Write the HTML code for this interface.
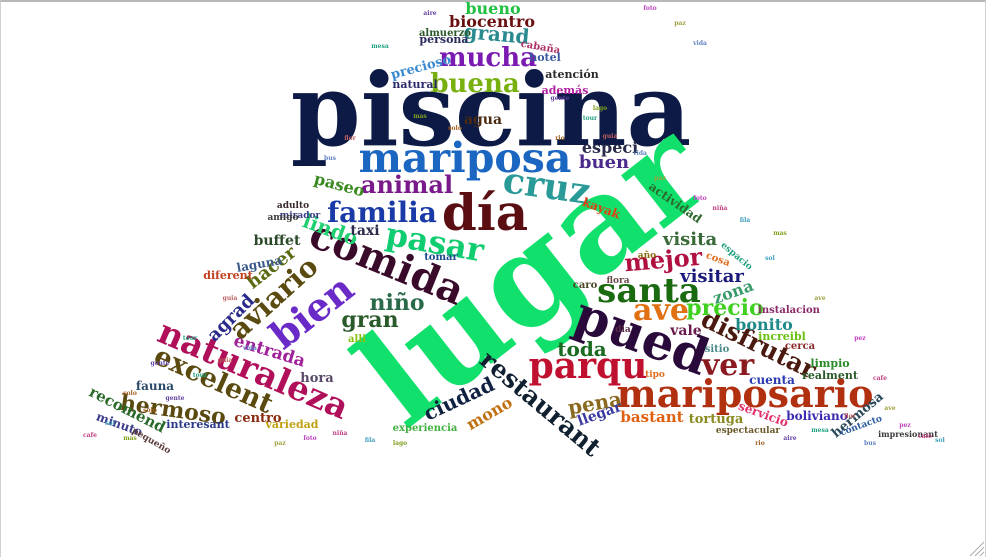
<!DOCTYPE html>
<html><head><meta charset="utf-8"><style>
html,body{margin:0;padding:0;background:#fff;width:987px;height:558px;overflow:hidden}
#frame{position:absolute;left:0;top:0;width:986px;height:557px;border-top:2px solid #b8b8b8;border-left:1px solid #d0d0d0;border-right:1px solid #d0d0d0;box-sizing:border-box}
svg{position:absolute;left:0;top:0}
text{font-family:"DejaVu Serif","Liberation Serif",serif;font-weight:bold}
</style></head><body>
<div id="frame"></div>
<svg width="987" height="558">
<g id="words"></g>
<path d="M970 556 L984 542 M975 556 L984 547 M980 556 L984 552" stroke="#aaa"/>
</svg>
<script>
const words=["piscina","lugar","mariposa","día","cruz","familia","animal","pasar","comida","bien","aviario","naturaleza","excelent","hermoso","pued","santa","mariposario","parqu","restaurant","ver","disfrutar","mucha","buena","bueno","biocentro","grand","ave","mejor","precio","niño","gran","lindo","ciudad","toda","pena","bonito","visitar","visita","zona","mono","buen","especi","paseo","agua","agrad","hacer","entrada","buffet","hora","recomend","centro","fauna","bastant","tortuga","boliviano","hermosa","llegar","vale","increibl","cuenta","realment","servicio","interesant","variedad","experiencia","minuto","contacto","espectacular","impresionant","laguna","taxi","diferent","persona","almuerzo","cabaña","hotel","atención","natural","precioso","además","actividad","kayak","alli","tomar","cerca","limpio","sitio","instalacion","pequeño","mirador","amigo","adulto","espacio","cosa","dia","flora","año","caro","tipo"];
const sizes=[100,132,41,50,36,28,24,32,40,38,28,34,27,22,50,34,38,36,25,30,25,26,26,16,16,20,30,24,22,22,22,20,20,20,20,16,18,18,16,16,18,16,16,14,18,18,17,14,13,15,13,12,15,13,12,13,14,14,11,12,11,12,11,11,10,12,9,9,8,12,14,11,11,10,10,11,11,11,13,11,12,12,10,10,10,11,10,10,9,9,9,9,9,10,9,9,9,10,9];
const colors=["#0c1a45","#12e06c","#1a66c0","#5a0e12","#2a9a98","#1a3aa8","#7a1a8a","#10cc70","#3a0a2a","#6a2ac8","#5a4a10","#b0105a","#5a4a10","#5a4a10","#2a0a3a","#1a6a10","#b03010","#c01030","#102030","#8a1a20","#4a1a10","#7a1ab0","#78b010","#20c040","#6a1010","#2a8a90","#e07010","#b01040","#40d020","#2a6a4a","#2a5a2a","#20d070","#102040","#1a6a20","#8a6a20","#208a8a","#1a1a7a","#3a6a3a","#3a9a6a","#c07010","#4a2a8a","#2a2a4a","#3a8a20","#4a2a10","#2a2a8a","#5a6a10","#a0209a","#2a4a2a","#5a4a6a","#2a6a2a","#8a2a10","#2a4a6a","#e06010","#8a8a20","#3a2ab0","#2a4a5a","#3a3aa0","#6a1a4a","#6ac010","#2a3ab0","#2a5a2a","#e0306a","#2a3a8a","#c0a010","#40b040","#3a3a8a","#2a5aa0","#6a5a2a","#3a3a3a","#3a5a8a","#2a2a4a","#c04020","#2a2a5a","#2a5a2a","#b0306a","#3a5aa0","#2a2a2a","#2a2a6a","#3a8ad0","#b020a0","#2a6a2a","#e04010","#8ac010","#1a4a8a","#8a2a2a","#2a8a2a","#4a8a8a","#8a2a6a","#5a3a3a","#3a3a8a","#3a3a3a","#3a2a2a","#20a080","#e07020","#5a2a4a","#6a4a4a","#8a6a10","#4a4a2a","#e07020"];
const xs=[491,560,465,485,545,382,407,433,382,320,280,249,210,172,636,649,745,588,535,728,755,488,475,493,492,496,661,664,725,397,370,328,462,582,596,764,712,690,735,492,604,610,338,483,235,275,268,277,317,125,258,155,652,716,817,860,601,686,782,772,830,762,198,292,425,118,862,748,908,260,365,228,444,445,540,545,572,415,422,565,673,600,357,441,800,830,717,789,150,300,283,293,735,717,623,618,647,585,655];
const ys=[145,310,172,230,198,222,193,253,275,322,305,380,388,417,352,302,407,378,410,375,352,66,92,14,27,41,320,268,315,310,327,236,405,356,410,330,282,245,297,418,168,153,190,124,322,272,356,245,382,414,422,390,422,423,420,418,418,335,340,384,379,418,428,428,431,428,428,433,437,268,235,279,43,36,50,61,78,88,71,94,206,212,342,260,349,367,352,313,443,218,220,208,258,262,332,283,258,288,377];
const rots=[0,-38,0,0,8,0,0,10,22,-38,-42,23,24,8,20,0,0,0,40,0,26,0,0,0,0,5,0,-5,0,0,0,20,-25,0,-10,0,0,0,-20,-30,0,0,15,0,-45,-38,17,0,0,27,0,0,0,0,0,-40,-20,0,0,0,0,20,0,0,0,20,-20,0,0,-10,0,0,0,0,10,0,0,0,-15,0,35,20,0,0,0,0,0,0,30,0,0,0,40,20,0,0,0,0,0];
const g=document.getElementById('words');
const NS='http://www.w3.org/2000/svg';
for(let i=0;i<words.length;i++){
  const t=document.createElementNS(NS,'text');
  
  
  t.setAttribute('x',xs[i]);t.setAttribute('y',ys[i]);
  t.setAttribute('font-size',sizes[i]);
  t.setAttribute('fill',colors[i]);
  t.setAttribute('text-anchor','middle');
  if(rots[i])t.setAttribute('transform','rotate('+rots[i]+' '+xs[i]+' '+ys[i]+')');
  t.textContent=words[i];
  g.appendChild(t);
}
const fillW=["cafe","sol","mas","solo","gente","tour","guia","vida","paz","foto","niña","fila","lago","rio","aire","mesa","flor","bus","ave","pez"];
const fillC=["#c04080","#40a0c0","#80a020","#a06020","#6040a0","#20a080","#c06060","#6080c0","#a0a040","#c040c0"];
const fillX=[90,110,130,150,175,200,225,250,280,310,340,370,400,760,790,820,850,870,890,905,925,940,420,455,560,590,610,640,660,700,720,745,600,560,430,380,350,330,820,860,880,770,780,130,160,190,230,700,680,650];
const fillY=[437,425,440,412,400,377,362,350,445,440,435,442,445,445,440,432,418,445,410,427,438,442,118,130,100,120,138,155,180,200,210,222,110,140,15,48,140,160,300,340,380,260,235,395,365,340,300,45,25,10];
for(let i=0;i<fillX.length;i++){
  const t=document.createElementNS(NS,'text');
  
  
  t.setAttribute('x',fillX[i]);t.setAttribute('y',fillY[i]);
  t.setAttribute('font-size',6);
  t.setAttribute('fill',fillC[i%fillC.length]);
  t.setAttribute('text-anchor','middle');
  t.textContent=fillW[i%fillW.length];
  g.appendChild(t);
}
</script>
</body></html>
